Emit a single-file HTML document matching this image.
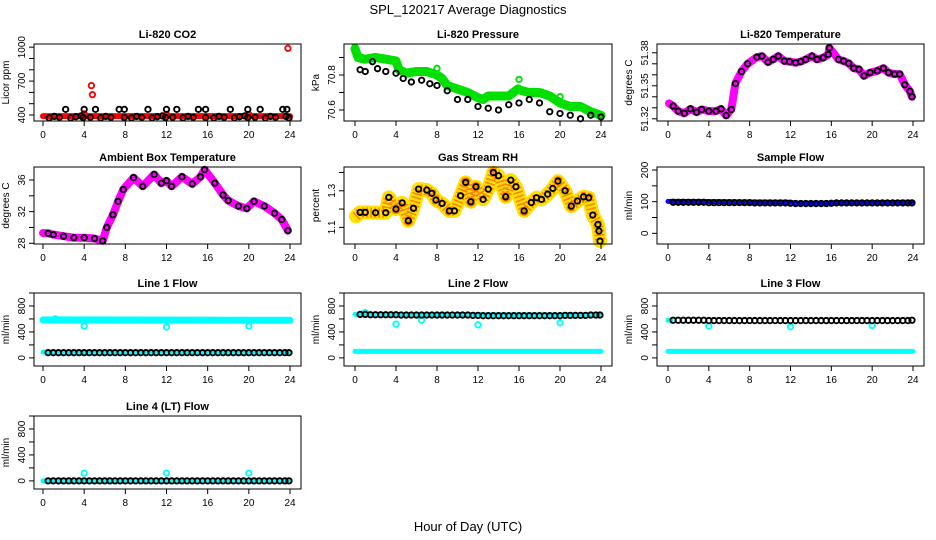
<!DOCTYPE html>
<html><head><meta charset="utf-8">
<style>
html,body{margin:0;padding:0;background:#fff;}
svg{display:block;font-family:"Liberation Sans",sans-serif;}
</style></head>
<body>
<svg id="chart" width="936" height="540" viewBox="0 0 936 540" xmlns="http://www.w3.org/2000/svg">
<rect x="0" y="0" width="936" height="540" fill="#fff"/>
<text x="468" y="14" font-size="13" text-anchor="middle">SPL_120217  Average Diagnostics</text>
<text x="468" y="531" font-size="13" text-anchor="middle">Hour of Day (UTC)</text>
</svg>
<script>
// ---- data ----
const co2RedBandT = [0, 24];
const co2RedBandV = [390, 390];
const co2RedT = [4.0, 4.7, 4.8, 12.0, 20.0, 23.8];
const co2RedV = [410, 660, 580, 405, 405, 990];
const co2HighT = [2.2, 4.0, 5.1, 7.4, 7.9, 10.2, 12.0, 13.0, 15.1, 15.8, 18.2, 19.9, 21.1, 23.3, 23.7];
const co2HighV = [450, 450, 450, 450, 450, 450, 450, 450, 450, 450, 450, 450, 450, 450, 450];
const co2LowT = [0.6, 1.1, 1.6, 2.7, 3.2, 3.7, 3.9, 4.6, 5.6, 6.1, 6.6, 7.9, 8.6, 9.1, 9.6, 10.6, 11.1, 11.6, 11.9, 12.6, 13.6, 14.1, 14.6, 15.8, 16.6, 17.1, 17.6, 18.6, 19.1, 19.6, 19.9, 20.6, 21.6, 22.1, 22.6, 23.6, 23.9];
const co2LowV = [375, 388, 380, 375, 385, 392, 378, 380, 375, 388, 380, 378, 375, 388, 380, 375, 385, 392, 378, 380, 375, 388, 380, 378, 375, 388, 380, 375, 385, 392, 378, 380, 375, 388, 380, 388, 375];

const presGreenT = [0, 0.3, 1, 2, 3, 4, 4.3, 5, 6, 7, 8, 8.5, 9, 10, 11, 12, 12.5, 13, 14, 15, 15.9, 16.3, 17, 18, 19, 20, 21, 22, 23, 24];
const presGreenV = [70.95, 70.90, 70.89, 70.90, 70.89, 70.88, 70.83, 70.81, 70.82, 70.82, 70.80, 70.78, 70.74, 70.72, 70.70, 70.67, 70.66, 70.68, 70.68, 70.68, 70.72, 70.71, 70.70, 70.70, 70.68, 70.64, 70.62, 70.62, 70.59, 70.57];
const presGreenPtT = [0, 8, 16, 20];
const presGreenPtV = [70.96, 70.838, 70.775, 70.676];
const presBlackT = [0.5, 1, 1.7, 2.2, 3, 4, 4.7, 5.5, 6.5, 7.3, 8, 9, 10, 11, 12, 13, 14, 15, 16, 17, 18, 19, 20, 21, 22, 23, 24];
const presBlackV = [70.83, 70.82, 70.876, 70.836, 70.82, 70.81, 70.78, 70.76, 70.77, 70.75, 70.74, 70.71, 70.66, 70.66, 70.62, 70.61, 70.60, 70.63, 70.64, 70.66, 70.64, 70.59, 70.58, 70.57, 70.55, 70.57, 70.56];

const ltempT = [0.1, 0.5, 1, 1.6, 2.2, 2.8, 3.3, 4, 4.7, 5.2, 5.7, 6.2, 6.6, 7.2, 7.8, 8.7, 9.2, 9.8, 10.3, 10.8, 11.4, 11.9, 12.5, 13, 13.5, 14.1, 14.6, 15.2, 15.7, 15.8, 16.7, 17.2, 17.7, 18.2, 18.7, 19.2, 19.8, 20.5, 21.1, 21.6, 22.2, 22.7, 23.2, 23.7, 23.9];
const ltempV = [51.334, 51.3316, 51.327, 51.325, 51.329, 51.326, 51.3285, 51.327, 51.327, 51.329, 51.323, 51.3285, 51.352, 51.363, 51.370, 51.376, 51.377, 51.3715, 51.374, 51.377, 51.3725, 51.372, 51.371, 51.372, 51.374, 51.377, 51.374, 51.3755, 51.3785, 51.3845, 51.374, 51.3725, 51.3705, 51.366, 51.365, 51.359, 51.362, 51.3636, 51.366, 51.362, 51.3606, 51.3606, 51.351, 51.345, 51.340];

const ambT = [0, 0.5, 1, 2, 3, 4, 5, 5.8, 6.2, 6.8, 7.3, 7.8, 8.8, 9.7, 10.8, 11.5, 12, 12.5, 13.5, 14.5, 15.3, 15.7, 16.7, 17.5, 18, 19, 19.8, 20.5, 21.5, 22.5, 23.2, 23.8];
const ambV = [29.3, 29.26, 29.1, 28.9, 28.7, 28.7, 28.6, 28.3, 30.0, 31.6, 33.3, 34.8, 36.3, 35.2, 36.7, 35.6, 35.9, 35.2, 36.4, 35.5, 36.4, 37.3, 35.6, 34.1, 33.4, 32.7, 32.4, 33.3, 32.7, 31.8, 31.0, 29.6];

const rhT = [0.1, 0.5, 1, 2, 3, 3.3, 4, 4.6, 5.2, 5.7, 6.2, 7, 7.5, 7.9, 8.5, 9.2, 9.7, 10.3, 10.8, 11.3, 11.8, 12.5, 13, 13.5, 14, 14.7, 15.2, 15.7, 16.5, 17.2, 17.7, 18.2, 18.8, 19.3, 19.8, 20.5, 21.1, 21.7, 22.3, 22.8, 23.2, 23.7, 23.8, 23.9];
const rhV = [1.16, 1.182, 1.182, 1.18, 1.18, 1.264, 1.2, 1.234, 1.136, 1.204, 1.309, 1.304, 1.286, 1.249, 1.231, 1.19, 1.19, 1.273, 1.346, 1.24, 1.322, 1.253, 1.309, 1.40, 1.382, 1.267, 1.358, 1.322, 1.19, 1.236, 1.262, 1.253, 1.282, 1.313, 1.353, 1.30, 1.216, 1.244, 1.267, 1.262, 1.167, 1.116, 1.08, 1.025];

const sfBlueT = [0, 4, 12, 12.5, 16, 24];
const sfBlueV = [101, 100, 98, 95, 96, 98];
const flowT = [0.5, 1, 1.5, 2, 2.5, 3, 3.5, 4, 4.5, 5, 5.5, 6, 6.5, 7, 7.5, 8, 8.5, 9, 9.5, 10, 10.5, 11, 11.5, 12, 12.5, 13, 13.5, 14, 14.5, 15, 15.5, 16, 16.5, 17, 17.5, 18, 18.5, 19, 19.5, 20, 20.5, 21, 21.5, 22, 22.5, 23, 23.5, 23.9];
const sfBlackV = [98, 98, 98, 98, 98, 98, 98, 97, 97, 97, 97, 97, 97, 97, 97, 97, 96, 96, 96, 96, 96, 96, 96, 95, 94, 94, 94, 94, 94, 94, 94, 95, 96, 96, 96, 96, 96, 96, 96, 96, 96, 96, 96, 96, 96, 96, 96, 96];

const l1CyanHighT = [0, 24]; const l1CyanHighV = [585, 580];
const l1CyanLowT = [0, 24]; const l1CyanLowV = [90, 90];
const l1DipT = [1.2, 4, 12, 20]; const l1DipV = [600, 490, 475, 490];
const l1BlackV = [80, 80, 80, 80, 80, 80, 80, 80, 80, 80, 80, 80, 80, 80, 80, 80, 80, 80, 80, 80, 80, 80, 80, 80, 80, 80, 80, 80, 80, 80, 80, 80, 80, 80, 80, 80, 80, 80, 80, 80, 80, 80, 80, 80, 80, 80, 80, 80];

const l2CyanHighT = [0, 24]; const l2CyanHighV = [670, 660];
const l2CyanLowT = [0, 24]; const l2CyanLowV = [100, 100];
const l2DipT = [1, 4, 6.5, 12, 20]; const l2DipV = [700, 520, 580, 510, 540];
const l2BlackV = [670, 670, 665, 665, 665, 665, 665, 665, 660, 660, 660, 660, 660, 660, 660, 660, 660, 660, 660, 660, 660, 660, 655, 655, 650, 650, 650, 650, 650, 650, 650, 650, 650, 650, 650, 650, 650, 650, 650, 650, 655, 655, 655, 655, 655, 660, 660, 660];

const l3CyanHighT = [0, 0.3]; const l3CyanHighV = [580, 580];
const l3CyanLowT = [0, 24]; const l3CyanLowV = [100, 100];
const l3DipT = [4, 12, 20]; const l3DipV = [490, 480, 500];
const l3BlackV = [580, 580, 580, 580, 580, 580, 580, 575, 575, 575, 575, 575, 575, 575, 575, 575, 575, 575, 575, 575, 575, 575, 575, 575, 575, 575, 575, 575, 575, 575, 575, 575, 575, 575, 575, 575, 575, 575, 575, 575, 575, 575, 575, 575, 575, 575, 575, 580];

const l4CyanT = [0, 24]; const l4CyanV = [0, 0];
const l4DipT = [4, 12, 20]; const l4DipV = [120, 120, 120];
const l4BlackV = [0, 0, 0, 0, 0, 0, 0, 0, 0, 0, 0, 0, 0, 0, 0, 0, 0, 0, 0, 0, 0, 0, 0, 0, 0, 0, 0, 0, 0, 0, 0, 0, 0, 0, 0, 0, 0, 0, 0, 0, 0, 0, 0, 0, 0, 0, 0, 0];

const xTicks = [0, 4, 8, 12, 16, 20, 24];

// ---- layout ----
const svg = document.getElementById('chart');
const NS = 'http://www.w3.org/2000/svg';
const COLS = [{L:34,R:301,x0:43,x24:290},{L:344,R:612,x0:355,x24:601},{L:657,R:924,x0:668,x24:913}];
const ROWS = [{T:44,B:121},{T:167,B:244},{T:293,B:366},{T:416,B:489}];
function mk(tag, attrs, parent){const e=document.createElementNS(NS,tag);for(const k in attrs)e.setAttribute(k,attrs[k]);(parent||svg).appendChild(e);return e;}

function panel(cfg){
  const c = COLS[cfg.col], r = ROWS[cfg.row];
  const g = mk('g', {});
  
  
  const xs = t => c.x0 + t*(c.x24-c.x0)/24;
  const ys = v => r.B - (v-cfg.lo)/(cfg.hi-cfg.lo)*(r.B-r.T);
  const t = mk('text', {x:(c.L+c.R)/2, y:r.T-6, 'font-size':11, 'font-weight':'bold', 'text-anchor':'middle'}, g);
  t.textContent = cfg.title;
  
  
  const yt = mk('text', {x:0, y:0, 'font-size':10, 'text-anchor':'middle', transform:`translate(${c.L-25},${(r.T+r.B)/2}) rotate(-90)`}, g);
  yt.textContent = cfg.ylab;
  
  
  const plot = mk('g', {}, g);
  
  
  cfg.draw(plot, xs, ys);
  const box = mk('rect', {x:c.L, y:r.T, width:c.R-c.L, height:r.B-r.T, fill:'none', stroke:'#000', 'stroke-width':1}, g);
  
  
  const xa = mk('g', {}, g);
  
  
  mk('line', {x1:xs(xTicks[0]), x2:xs(xTicks[xTicks.length-1]), y1:r.B, y2:r.B, stroke:'#000'}, xa);
  xTicks.forEach(v => {
    mk('line', {x1:xs(v), x2:xs(v), y1:r.B, y2:r.B+5, stroke:'#000'}, xa);
    const lt = mk('text', {x:xs(v), y:r.B+17, 'font-size':10, 'text-anchor':'middle'}, xa);
    lt.textContent = String(v);
    
    
  });
  const ya = mk('g', {}, g);
  
  
  mk('line', {x1:c.L, x2:c.L, y1:ys(cfg.ticks[0]), y2:ys(cfg.ticks[cfg.ticks.length-1]), stroke:'#000'}, ya);
  cfg.ticks.forEach(v => {
    mk('line', {x1:c.L-5, x2:c.L, y1:ys(v), y2:ys(v), stroke:'#000'}, ya);
  });
  cfg.labelVals.forEach((v,i) => {
    const lt = mk('text', {x:0, y:0, 'font-size':10, 'text-anchor':'middle', transform:`translate(${c.L-9},${ys(v)}) rotate(-90)`}, ya);
    lt.textContent = cfg.labelText[i];
    
    
  });
}
function band(p, xs, ys, T, V, color, w, name){
  const pl = mk('polyline', {points:T.map((t,i)=>xs(t)+','+ys(V[i])).join(' '), fill:'none', stroke:color, 'stroke-width':w, 'stroke-linejoin':'round', 'stroke-linecap':'round'}, p);
  
  
  return pl;
}
function pts(p, xs, ys, T, V, color, name){
  const g = mk('g', {}, p);
  
  
  T.forEach((t,i) => {
    const c = mk('circle', {cx:xs(t), cy:ys(V[i]), r:2.7, fill:'none', stroke:color, 'stroke-width':1.9}, g);
    
    
  });
}
const flowTicks = [0,200,400,600,800,1000];

panel({col:0,row:0,name:'co2',title:'Li-820 CO2',ylab:'Licor ppm',lo:347,hi:1028,
  ticks:[400,500,600,700,800,900,1000],labelVals:[400,700,1000],labelText:['400','700','1000'],
  draw:(p,xs,ys)=>{band(p,xs,ys,co2RedBandT,co2RedBandV,'#ff0000',6,'co2-raw-band');
    pts(p,xs,ys,co2RedT,co2RedV,'#ff0000','co2-raw-outliers');
    pts(p,xs,ys,co2HighT,co2HighV,'#000','co2-avg-high');
    pts(p,xs,ys,co2LowT,co2LowV,'#000','co2-avg-low');}});
panel({col:1,row:0,name:'pressure',title:'Li-820 Pressure',ylab:'kPa',lo:70.537,hi:70.977,
  ticks:[70.6,70.7,70.8,70.9],labelVals:[70.6,70.8],labelText:['70.6','70.8'],
  draw:(p,xs,ys)=>{band(p,xs,ys,presGreenT,presGreenV,'#00e000',9,'pressure-raw-band');
    pts(p,xs,ys,presGreenPtT,presGreenPtV,'#00e000','pressure-raw-spikes');
    pts(p,xs,ys,presBlackT,presBlackV,'#000','pressure-avg');}});
panel({col:2,row:0,name:'li820-temp',title:'Li-820 Temperature',ylab:'degrees C',lo:51.318,hi:51.388,
  ticks:[51.32,51.33,51.34,51.35,51.36,51.37,51.38],labelVals:[51.32,51.35,51.38],labelText:['51.32','51.35','51.38'],
  draw:(p,xs,ys)=>{band(p,xs,ys,ltempT,ltempV,'#ff00ff',8,'li820-temp-raw-band');
    pts(p,xs,ys,ltempT.slice(1),ltempV.slice(1),'#000','li820-temp-avg');}});
panel({col:0,row:1,name:'ambient-temp',title:'Ambient Box Temperature',ylab:'degrees C',lo:27.91,hi:37.64,
  ticks:[28,30,32,34,36],labelVals:[28,32,36],labelText:['28','32','36'],
  draw:(p,xs,ys)=>{band(p,xs,ys,ambT,ambV,'#ff00ff',8,'ambient-temp-raw-band');
    pts(p,xs,ys,ambT.slice(1),ambV.slice(1),'#000','ambient-temp-avg');}});
panel({col:1,row:1,name:'rh',title:'Gas Stream RH',ylab:'percent',lo:1.009,hi:1.43,
  ticks:[1.1,1.2,1.3,1.4],labelVals:[1.1,1.3],labelText:['1.1','1.3'],
  draw:(p,xs,ys)=>{band(p,xs,ys,rhT,rhV,'#ffe000',14,'rh-raw-band');
    const d=band(p,xs,ys,rhT,rhV,'#ff3000',10,'rh-raw-dots'); d.setAttribute('stroke-dasharray','1.5 2.5'); d.setAttribute('stroke-linecap','butt'); d.setAttribute('opacity','0.55');
    pts(p,xs,ys,rhT.slice(1),rhV.slice(1),'#000','rh-avg');}});
panel({col:2,row:1,name:'sample-flow',title:'Sample Flow',ylab:'ml/min',lo:-33.7,hi:209.5,
  ticks:[0,50,100,150,200],labelVals:[0,100,200],labelText:['0','100','200'],
  draw:(p,xs,ys)=>{band(p,xs,ys,sfBlueT,sfBlueV,'#0000ff',5,'sample-flow-raw-band');
    pts(p,xs,ys,flowT,sfBlackV,'#000','sample-flow-avg');}});
panel({col:0,row:2,name:'line1-flow',title:'Line 1 Flow',ylab:'ml/min',lo:-125,hi:1000,
  ticks:flowTicks,labelVals:[0,400,800],labelText:['0','400','800'],
  draw:(p,xs,ys)=>{band(p,xs,ys,l1CyanHighT,l1CyanHighV,'#00ffff',7,'line1-raw-high');
    band(p,xs,ys,l1CyanLowT,l1CyanLowV,'#00ffff',5,'line1-raw-low');
    pts(p,xs,ys,l1DipT,l1DipV,'#00ffff','line1-raw-dips');
    pts(p,xs,ys,flowT,l1BlackV,'#000','line1-avg');}});
panel({col:1,row:2,name:'line2-flow',title:'Line 2 Flow',ylab:'ml/min',lo:-125,hi:1000,
  ticks:flowTicks,labelVals:[0,400,800],labelText:['0','400','800'],
  draw:(p,xs,ys)=>{band(p,xs,ys,l2CyanHighT,l2CyanHighV,'#00ffff',5,'line2-raw-high');
    band(p,xs,ys,l2CyanLowT,l2CyanLowV,'#00ffff',5,'line2-raw-low');
    pts(p,xs,ys,l2DipT,l2DipV,'#00ffff','line2-raw-dips');
    pts(p,xs,ys,flowT,l2BlackV,'#000','line2-avg');}});
panel({col:2,row:2,name:'line3-flow',title:'Line 3 Flow',ylab:'ml/min',lo:-125,hi:1000,
  ticks:flowTicks,labelVals:[0,400,800],labelText:['0','400','800'],
  draw:(p,xs,ys)=>{band(p,xs,ys,l3CyanHighT,l3CyanHighV,'#00ffff',5,'line3-raw-high');
    band(p,xs,ys,l3CyanLowT,l3CyanLowV,'#00ffff',5,'line3-raw-low');
    pts(p,xs,ys,l3DipT,l3DipV,'#00ffff','line3-raw-dips');
    pts(p,xs,ys,flowT,l3BlackV,'#000','line3-avg');}});
panel({col:0,row:3,name:'line4-flow',title:'Line 4 (LT) Flow',ylab:'ml/min',lo:-125,hi:1000,
  ticks:flowTicks,labelVals:[0,400,800],labelText:['0','400','800'],
  draw:(p,xs,ys)=>{band(p,xs,ys,l4CyanT,l4CyanV,'#00ffff',5,'line4-raw');
    pts(p,xs,ys,l4DipT,l4DipV,'#00ffff','line4-raw-dips');
    pts(p,xs,ys,flowT,l4BlackV,'#000','line4-avg');}});
</script>
</body></html>
